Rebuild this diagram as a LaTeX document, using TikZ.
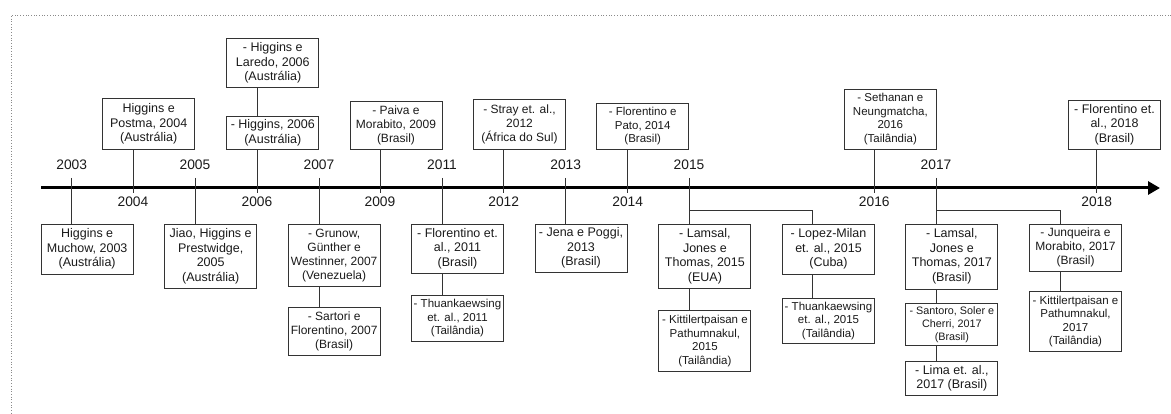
\documentclass[tikz,border=0pt]{standalone}
\usepackage{fontspec}
\setmainfont{Liberation Sans}
\usetikzlibrary{arrows.meta,calc}
\definecolor{ln}{HTML}{333333}
\definecolor{tx}{HTML}{1A1A1A}
\definecolor{dotc}{HTML}{8A8A8A}
\newcommand\fa{\fontsize{12.5}{14.5}\selectfont}
\newcommand\fm{\fontsize{12}{14}\selectfont}
\newcommand\fb{\fontsize{11.5}{13.5}\selectfont}
\newcommand\fc{\fontsize{10.8}{12.9}\selectfont}
\newcommand\fy{\fontsize{13.8}{16}\selectfont}
\tikzset{
  bx/.style={draw=ln, line width=0.9pt, inner sep=0pt, align=center, minimum width=92pt, text=tx, font=\fa},
  cn/.style={draw=ln, line width=0.9pt},
  yr/.style={inner sep=0pt, text=tx, font=\fy},
  frame/.style={draw=dotc, line width=0.7pt, dotted},
}
\begin{document}
\begin{tikzpicture}[x=1pt,y=-1pt]
\useasboundingbox (0,0) rectangle (1171,414);
% frame
\coordinate (f0) at (11,15);
\coordinate (f1) at (1171,15);
\coordinate (f2) at (11,414);
\draw[frame] (f1) -- (f0) -- (f2);
% axis
\coordinate (ax0) at (41,188);
\coordinate (ax1) at (1160,188);
\draw[line width=3pt, -{Triangle[length=12pt,width=13pt]}] (ax0) -- (ax1);
% tick coordinates
\foreach \yy/\xx in {2003/71.7,2004/133,2005/195,2006/257,2007/319,2009/380,2011/442,2012/503.7,2013/565.7,2014/627.7,2015/689,2016/874.3,2017/936,2018/1096.7}{
  \coordinate (a\yy) at (\xx,188);
}
% year labels above
\foreach \yy in {2003,2005,2007,2011,2013,2015,2017}{
  \node[yr] (y\yy) at ($(a\yy)+(0,-23)$) {\yy};
}
% year labels below
\foreach \yy in {2004,2006,2009,2012,2014,2016,2018}{
  \node[yr] (y\yy) at ($(a\yy)+(0,14)$) {\yy};
}
% boxes above
\node[bx, minimum height=50.3pt] (b2004) at (148.7,123.85) {Higgins e\\Postma, 2004\\(Austrália)};
\node[bx, minimum height=49pt] (b2006a) at (272.8,62.8) {- Higgins e\\Laredo, 2006\\(Austrália)};
\node[bx, minimum height=32.7pt] (b2006b) at (272.8,132.65) {- Higgins, 2006\\(Austrália)};
\node[bx, minimum height=47.7pt, font=\fm] (b2009) at (396,125.15) {- Paiva e\\Morabito, 2009\\(Brasil)};
\node[bx, minimum height=49.7pt, font=\fm] (b2012) at (519.5,124.15) {- Stray et. al.,\\2012\\(África do Sul)};
\node[bx, minimum height=45.7pt, font=\fb] (b2014) at (642.7,126.15) {- Florentino e\\Pato, 2014\\(Brasil)};
\node[bx, minimum height=60pt, font=\fb] (b2016) at (890.35,119) {- Sethanan e\\Neungmatcha,\\2016\\(Tailândia)};
\node[bx, minimum height=49pt] (b2018) at (1114.5,124.5) {- Florentino et.\\al., 2018\\(Brasil)};
% boxes below
\node[bx, minimum height=50.3pt] (c2003) at (87.15,249.15) {Higgins e\\Muchow, 2003\\(Austrália)};
\node[bx, minimum height=64.3pt] (c2005) at (210.7,256.15) {Jiao, Higgins e\\Prestwidge,\\2005\\(Austrália)};
\node[bx, minimum height=62.7pt, font=\fm] (c2007a) at (334.15,255.35) {- Grunow,\\Günther e\\Westinner, 2007\\(Venezuela)};
\node[bx, minimum height=48.4pt, font=\fm] (c2007b) at (334.15,331.5) {- Sartori e\\Florentino, 2007\\(Brasil)};
\node[bx, minimum height=49.3pt] (c2011a) at (457.5,248.65) {- Florentino et.\\al., 2011\\(Brasil)};
\node[bx, minimum height=45.7pt, font=\fb] (c2011b) at (457.5,318.15) {- Thuankaewsing\\et. al., 2011\\(Tailândia)};
\node[bx, minimum height=48.3pt] (c2013) at (581,248.15) {- Jena e Poggi,\\2013\\(Brasil)};
\node[bx, minimum height=64.3pt] (c2015a) at (704.9,256.15) {- Lamsal,\\Jones e\\Thomas, 2015\\(EUA)};
\node[bx, minimum height=61pt, font=\fb] (c2015b) at (704.9,341.2) {- Kittilertpaisan e\\Pathumnakul,\\2015\\(Tailândia)};
\node[bx, minimum height=50.3pt] (c2015c) at (828.5,249.15) {- Lopez-Milan\\et. al., 2015\\(Cuba)};
\node[bx, minimum height=44.7pt, font=\fb] (c2015d) at (828.5,320.65) {- Thuankaewsing\\et. al., 2015\\(Tailândia)};
\node[bx, minimum height=65pt] (c2017a) at (951.85,256.5) {- Lamsal,\\Jones e\\Thomas, 2017\\(Brasil)};
\node[bx, minimum height=42pt, font=\fc] (c2017b) at (951.85,324.7) {- Santoro, Soler e\\Cherri, 2017\\(Brasil)};
\node[bx, minimum height=34.7pt] (c2017c) at (951.85,378.35) {- Lima et. al.,\\2017 (Brasil)};
\node[bx, minimum height=47pt, font=\fm] (c2017d) at (1075.5,247.5) {- Junqueira e\\Morabito, 2017\\(Brasil)};
\node[bx, minimum height=60pt, font=\fb] (c2017e) at (1075.5,321.3) {- Kittilertpaisan e\\Pathumnakul,\\2017\\(Tailândia)};
% connectors: above boxes to axis
\foreach \yy/\bb in {2004/b2004,2006/b2006b,2009/b2009,2012/b2012,2014/b2014,2016/b2016,2018/b2018}{
  \draw[cn] (\bb.south -| a\yy) -- ($(a\yy)+(0,5)$);
}
\draw[cn] (b2006a.south -| a2006) -- (b2006b.north -| a2006);
% connectors: axis to boxes below
\foreach \yy/\bb in {2003/c2003,2005/c2005,2007/c2007a,2011/c2011a,2013/c2013,2015/c2015a,2017/c2017a}{
  \draw[cn] ($(a\yy)+(0,-10)$) -- (\bb.north -| a\yy);
}
\draw[cn] (c2007a.south -| a2007) -- (c2007b.north -| a2007);
\draw[cn] (c2011a.south -| a2011) -- (c2011b.north -| a2011);
\draw[cn] (c2015a.south -| a2015) -- (c2015b.north -| a2015);
\draw[cn] (c2017a.south -| a2017) -- (c2017b.north -| a2017);
\draw[cn] (c2017b.south -| a2017) -- (c2017c.north -| a2017);
% branches
\coordinate (j2015) at (689,210);
\coordinate (k2015) at (812.3,210);
\draw[cn] (j2015) -- (k2015) -- (k2015 |- c2015c.north);
\draw[cn] (c2015c.south -| k2015) -- (c2015d.north -| k2015);
\coordinate (j2017) at (936,210);
\coordinate (k2017) at (1060,210);
\draw[cn] (j2017) -- (k2017) -- (k2017 |- c2017d.north);
\draw[cn] (c2017d.south -| k2017) -- (c2017e.north -| k2017);
\end{tikzpicture}
\end{document}
